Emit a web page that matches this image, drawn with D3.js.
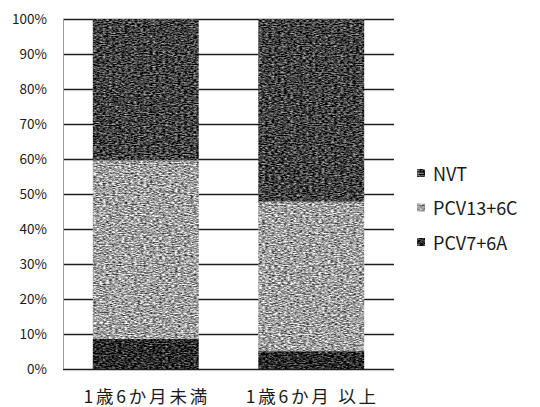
<!DOCTYPE html>
<html>
<head>
<meta charset="utf-8">
<script src="https://cdn.jsdelivr.net/npm/d3@7/dist/d3.min.js"></script>
<style>
  html, body { margin: 0; padding: 0; background: #fff; }
  svg { display: block; }
  text { font-family: "Noto Sans CJK JP", "Noto Sans", sans-serif; fill: #1a1a1a; }
</style>
</head>
<body>
<svg id="chart" width="540" height="407"></svg>
<script>
// Age groups and serotype shares (%)
const categories = ["1歳6か月未満", "1歳6か月 以上"];
const seriesNames = ["PCV7+6A", "PCV13+6C", "NVT"];      // bottom to top
const pcv7_6A  = [8.6, 5.1];
const pcv13_6C = [51.0, 42.7];
const nvt      = [40.4, 52.2];
const yTicks = [0, 10, 20, 30, 40, 50, 60, 70, 80, 90, 100];
const legendOrder = ["NVT", "PCV13+6C", "PCV7+6A"];

const colors = { "PCV7+6A": "#2a2a2a", "PCV13+6C": "#a0a0a0", "NVT": "#404040" };
// mean grey level and speckle contrast of each fill texture
const tone = { "PCV7+6A": 0.17, "PCV13+6C": 0.63, "NVT": 0.26 };
const contrast = { "PCV7+6A": 1.2, "PCV13+6C": 1.4, "NVT": 1.3 };
const grainId = { "PCV7+6A": "g-pcv7", "PCV13+6C": "g-pcv13", "NVT": "g-nvt" };

const rows = categories.map((c, i) => ({
  cat: c, "PCV7+6A": pcv7_6A[i], "PCV13+6C": pcv13_6C[i], "NVT": nvt[i]
}));

const svg = d3.select("#chart");
const plot = { left: 63, right: 394, top: 19, bottom: 369 };

const x = d3.scaleBand().domain(categories)
  .range([plot.left, plot.right]).paddingInner(0.36).paddingOuter(0.18);
const y = d3.scaleLinear().domain([0, 100]).range([plot.bottom, plot.top]);

// grainy print texture for the bar fills
const defs = svg.append("defs");
seriesNames.forEach((s, k) => {
  const f = defs.append("filter").attr("id", grainId[s])
    .attr("filterUnits", "userSpaceOnUse")
    .attr("x", 0).attr("y", 0).attr("width", 540).attr("height", 407)
    .attr("color-interpolation-filters", "sRGB");
  f.append("feTurbulence").attr("type", "fractalNoise")
    .attr("baseFrequency", "0.32 0.9").attr("numOctaves", 2).attr("seed", 3 + k * 7)
    .attr("result", "noise");
  f.append("feColorMatrix").attr("in", "noise").attr("type", "matrix")
    .attr("values", "1 0 0 0 0  1 0 0 0 0  1 0 0 0 0  0 0 0 0 1").attr("result", "gray");
  const ct = f.append("feComponentTransfer").attr("in", "gray").attr("result", "speck");
  ["feFuncR", "feFuncG", "feFuncB"].forEach(fn =>
    ct.append(fn).attr("type", "linear")
      .attr("slope", contrast[s]).attr("intercept", tone[s] - contrast[s] * 0.5));
  f.append("feComposite").attr("in", "speck").attr("in2", "SourceGraphic").attr("operator", "in");
});

// gridlines
svg.append("g").selectAll("line").data(yTicks).join("line")
  .attr("x1", plot.left).attr("x2", plot.right)
  .attr("y1", d => Math.round(y(d)) + 0.5).attr("y2", d => Math.round(y(d)) + 0.5)
  .attr("stroke", "#1e1e1e").attr("stroke-width", 1.3);

// left axis line
svg.append("line")
  .attr("x1", plot.left + 0.5).attr("x2", plot.left + 0.5)
  .attr("y1", plot.top).attr("y2", plot.bottom)
  .attr("stroke", "#9a9a9a").attr("stroke-width", 1);

// y tick labels
svg.append("g").selectAll("text").data(yTicks).join("text")
  .attr("x", 47).attr("y", d => y(d) + 1)
  .attr("text-anchor", "end").attr("dominant-baseline", "middle")
  .attr("font-size", 13.5).text(d => d + "%");

// stacked bars
const stacked = d3.stack().keys(seriesNames)(rows);
svg.append("g").selectAll("g").data(stacked).join("g")
  .attr("fill", d => colors[d.key])
  .attr("filter", d => `url(#${grainId[d.key]})`)
  .selectAll("rect").data(d => d).join("rect")
  .attr("x", d => x(d.data.cat))
  .attr("width", x.bandwidth())
  .attr("y", d => y(d[1]))
  .attr("height", d => y(d[0]) - y(d[1]));

// category labels
svg.append("g").selectAll("text").data(categories).join("text")
  .attr("x", d => x(d) + x.bandwidth() / 2 + 1)
  .attr("y", 403)
  .attr("text-anchor", "middle")
  .attr("font-size", 17.5).attr("letter-spacing", 2.8)
  .text(d => d);

// legend
const legend = svg.append("g").selectAll("g").data(legendOrder).join("g")
  .attr("transform", (d, i) => `translate(417,${169 + i * 34.5})`);
legend.append("rect").attr("width", 8).attr("height", 8)
  .attr("fill", d => colors[d]).attr("filter", d => `url(#${grainId[d]})`);
legend.append("text").attr("x", 16).attr("y", 11.5)
  .attr("font-size", 18).text(d => d);
</script>
</body>
</html>
